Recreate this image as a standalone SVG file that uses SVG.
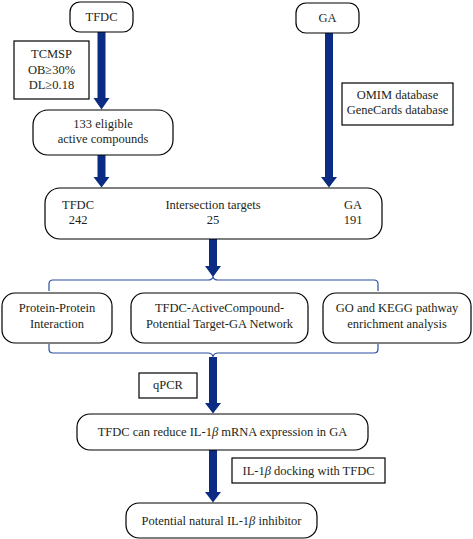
<svg xmlns="http://www.w3.org/2000/svg" width="473" height="539" viewBox="0 0 473 539" font-family="Liberation Serif" font-size="12.5">
<style>
text{fill:#231f20;text-anchor:middle}
.node rect{fill:#fff;stroke:#000;stroke-width:1.2}
.arrow{fill:#0b2c82}
.brace{fill:none;stroke:#2b4fa0;stroke-width:1.2}
.b{font-style:italic}
</style>
<rect width="473" height="539" fill="#fff"/>
<g id="connectors">
<polygon class="arrow" points="97.5,32 105.5,32 105.5,98 109.5,98 101.5,109.5 93.5,98 97.5,98"/>
<polygon class="arrow" points="97.5,155 105.5,155 105.5,177 109.5,177 101.5,187.5 93.5,177 97.5,177"/>
<polygon class="arrow" points="325,33 333,33 333,177 337,177 329,187.5 321,177 325,177"/>
<polygon class="arrow" points="108,210 140,210 140,206 153,214 140,222 140,218 108,218"/>
<polygon class="arrow" points="323,210 291,210 291,206 278,214 291,222 291,218 323,218"/>
<polygon class="arrow" points="209,239 217,239 217,266 221,266 213,277 205,266 209,266"/>
<polygon class="arrow" points="209,357 217,357 217,403 221,403 213,413.5 205,403 209,403"/>
<polygon class="arrow" points="209,450 217,450 217,492 221,492 213,502.5 205,492 209,492"/>
<path class="brace" d="M49,291 L49,284 Q49,280 53,280 L208,280 Q212,280 213,277 Q214,280 218,280 L374,280 Q378,280 378,284 L378,291"/>
<path class="brace" d="M49,344 L49,349 Q49,353 53,353 L208,353 Q212,353 213,356.5 Q214,353 218,353 L374,353 Q378,353 378,349 L378,344"/>
</g>
<g id="tfdc" class="node"><rect x="70" y="2" width="63" height="30" rx="10"/><text x="101.5" y="21">TFDC</text></g>
<g id="ga" class="node"><rect x="296" y="3" width="63" height="30" rx="10"/><text x="327.5" y="22">GA</text></g>
<g id="tcmsp" class="node"><rect x="14" y="41" width="75" height="58"/><text x="51.5" y="58">TCMSP</text><text x="51.5" y="74">OB≥30%</text><text x="51.5" y="89">DL≥0.18</text></g>
<g id="omim" class="node"><rect x="342" y="83" width="111" height="42"/><text x="397.5" y="99">OMIM database</text><text x="397.5" y="114">GeneCards database</text></g>
<g id="compounds" class="node"><rect x="33" y="110" width="140" height="45" rx="15"/><text x="103" y="128">133 eligible</text><text x="103" y="143">active compounds</text></g>
<g id="intersection" class="node"><rect x="45" y="188" width="337" height="51" rx="15"/>
<text x="78" y="209">TFDC</text><text x="78" y="224">242</text>
<text x="213" y="209">Intersection targets</text><text x="213" y="224">25</text>
<text x="353" y="209">GA</text><text x="353" y="224">191</text></g>
<g id="ppi" class="node"><rect x="2" y="293" width="110" height="50" rx="13"/><text x="57" y="312">Protein-Protein</text><text x="57" y="328">Interaction</text></g>
<g id="network" class="node"><rect x="131" y="293" width="177" height="50" rx="13"/><text x="219.5" y="312">TFDC-ActiveCompound-</text><text x="219.5" y="328">Potential Target-GA Network</text></g>
<g id="kegg" class="node"><rect x="323" y="293" width="148" height="50" rx="13"/><text x="397" y="312">GO and KEGG pathway</text><text x="397" y="328">enrichment analysis</text></g>
<g id="qpcr" class="node"><rect x="139" y="373" width="58" height="25"/><text x="168" y="389">qPCR</text></g>
<g id="reduce" class="node"><rect x="77" y="414" width="291" height="36" rx="13"/><text x="222.5" y="436">TFDC can reduce IL-1<tspan class="b">β</tspan> mRNA expression in GA</text></g>
<g id="docking" class="node"><rect x="232" y="458" width="153" height="25"/><text x="308.5" y="475">IL-1<tspan class="b">β</tspan> docking with TFDC</text></g>
<g id="inhibitor" class="node"><rect x="126" y="503" width="191" height="35" rx="13"/><text x="221.5" y="525">Potential natural IL-1<tspan class="b">β</tspan> inhibitor</text></g>
</svg>
